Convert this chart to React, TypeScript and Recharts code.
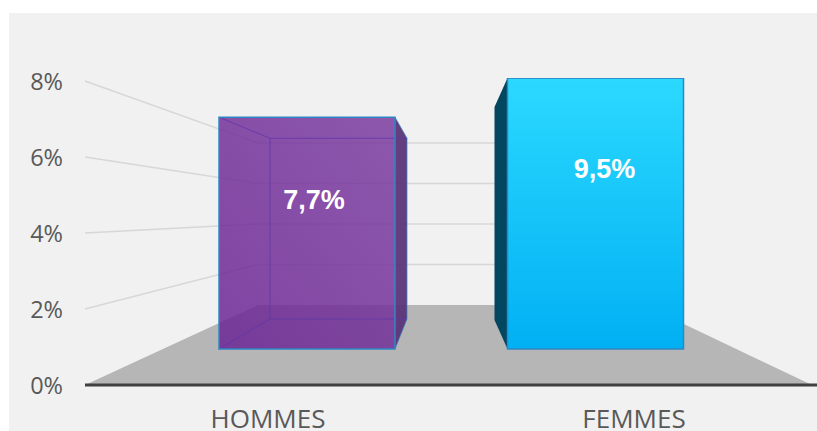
import {
  Bar,
  BarChart,
  LabelList,
  ReferenceArea,
  ReferenceLine,
  XAxis,
  YAxis,
} from "recharts";

const categories = ["HOMMES", "FEMMES"];
const values = [7.7, 9.5];
const valueLabels = ["7,7%", "9,5%"];
const axisTicks = [0, 2, 4, 6, 8];
const wallTicks = [2, 4, 6, 8];
// the source chart stops its value axis at 9, so the 9,5% box is cut there
const AXIS_MAX = 9;

const chartData = categories.map((name, i) => ({
  name,
  value: Math.min(values[i], AXIS_MAX),
  label: valueLabels[i],
}));

// perspective: px per 1% on the front edge, at the boxes and on the back wall
const FRONT_UNIT = 38;
const WALL_UNIT = 20.25;
const FLOOR_DEPTH = 80;
const PLOT_LEFT = 85;
const WALL_LEFT = 258;
const WALL_RIGHT = 644;
const FLOOR_RIGHT = 812;

const textColor = "#595959";
const gridColor = "#d7d7d7";
const edgeColor = "#2f86c4";

function Floor({ x, y, height }: any) {
  const bottom = y + height;
  return (
    <path
      d={`M${x},${bottom} L${WALL_LEFT},${y} L${WALL_RIGHT},${y} L${FLOOR_RIGHT},${bottom} Z`}
      fill="#b6b6b6"
    />
  );
}

function WallLine({ x2, y1, tick }: any) {
  const frontY = y1 + FLOOR_DEPTH - (FRONT_UNIT - WALL_UNIT) * tick;
  return (
    <path
      d={`M${PLOT_LEFT},${frontY} L${WALL_LEFT},${y1} L${x2},${y1}`}
      fill="none"
      stroke={gridColor}
      strokeWidth={1.5}
    />
  );
}

function Box({ x, y, width, height, index }: any) {
  const right = x + width;
  const bottom = y + height;
  if (index === 0) {
    const bx1 = x + 51;
    const bx2 = right + 12;
    const by1 = y + 21;
    const by2 = bottom - 30;
    return (
      <g>
        <path
          d={`M${right},${y} L${bx2},${by1} L${bx2},${by2} L${right},${bottom} Z`}
          fill="#5b3579"
          fillOpacity={0.95}
        />
        <rect x={x} y={y} width={width} height={height} fill="url(#purpleFace)" />
        <path
          d={`M${x},${y} L${bx1},${by1} L${bx2},${by1} M${bx1},${by1} L${bx1},${by2} L${bx2},${by2} M${bx1},${by2} L${x},${bottom}`}
          fill="none"
          stroke="#5f35a8"
          strokeOpacity={0.75}
          strokeWidth={1}
        />
        <path
          d={`M${right},${y} L${bx2},${by1} L${bx2},${by2} L${right},${bottom}`}
          fill="none"
          stroke={edgeColor}
          strokeOpacity={0.7}
          strokeWidth={1}
        />
        <rect x={x} y={y} width={width} height={height} fill="none" stroke={edgeColor} strokeWidth={1.5} />
      </g>
    );
  }
  const sx = x - 13;
  return (
    <g>
      <path
        d={`M${x},${y} L${sx},${y + 29} L${sx},${bottom - 29} L${x},${bottom} Z`}
        fill="#02465f"
      />
      <rect
        x={x}
        y={y}
        width={width}
        height={height}
        fill="url(#blueFace)"
        stroke={edgeColor}
        strokeWidth={1.5}
      />
    </g>
  );
}

function BoxLabel({ x, y, width, index, value }: any) {
  const dy = index === 0 ? 92 : 100;
  const dx = index === 0 ? 7 : 9;
  return (
    <text
      x={x + width / 2 + dx}
      y={y + dy}
      textAnchor="middle"
      fill="#ffffff"
      fontFamily="Liberation Sans"
      fontWeight={700}
      fontSize={27}
    >
      {value}
    </text>
  );
}

export default function App() {
  return (
    <div style={{ position: "absolute", left: 0, top: 0, width: 817, height: 431, background: "#ffffff", overflow: "hidden" }}>
      <div style={{ position: "absolute", left: 9, top: 13, right: 0, bottom: 0, background: "#f1f1f1" }} />
      <div style={{ position: "absolute", left: 0, top: 0 }}>
        <BarChart
          width={817}
          height={431}
          data={chartData}
          barSize={176}
          margin={{ top: 78, right: 0, bottom: 0, left: 0 }}
        >
          <defs>
            <linearGradient id="purpleFace" x1="0" y1="1" x2="1" y2="0">
              <stop offset="0%" stopColor="#6a2393" stopOpacity={0.84} />
              <stop offset="100%" stopColor="#7a3a9f" stopOpacity={0.84} />
            </linearGradient>
            <linearGradient id="blueFace" x1="0" y1="0" x2="0" y2="1">
              <stop offset="0%" stopColor="#2bd9ff" />
              <stop offset="100%" stopColor="#01b0f3" />
            </linearGradient>
          </defs>
          <XAxis xAxisId="boxes" dataKey="name" hide height={0} padding={{ left: 78, right: 77 }} />
          <XAxis
            xAxisId="front"
            dataKey="name"
            height={46}
            axisLine={{ stroke: "#404040", strokeWidth: 3 }}
            tickLine={false}
            tickMargin={19}
            tick={{ fill: textColor, fontSize: 26, fontFamily: "Open Sans" }}
          />
          <YAxis
            yAxisId="front"
            width={85}
            allowDataOverflow
            domain={[0, 307 / FRONT_UNIT]}
            ticks={axisTicks}
            tickFormatter={(v) => `${v}%`}
            axisLine={false}
            tickLine={false}
            tickMargin={16}
            tick={{ fill: textColor, fontSize: 23.5, fontFamily: "Open Sans", dy: 1 }}
          />
          <YAxis yAxisId="boxes" hide width={0} allowDataOverflow domain={[-1.196, 9.004]} />
          <YAxis
            yAxisId="wall"
            hide
            width={0}
            allowDataOverflow
            domain={[-FLOOR_DEPTH / WALL_UNIT, 227 / WALL_UNIT]}
          />
          <ReferenceArea
            xAxisId="front"
            yAxisId="front"
            y1={0}
            y2={FLOOR_DEPTH / FRONT_UNIT}
            shape={<Floor />}
          />
          {wallTicks.map((t) => (
            <ReferenceLine
              key={t}
              xAxisId="front"
              yAxisId="wall"
              y={t}
              zIndex={150}
              shape={(p: any) => <WallLine {...p} tick={t} x2={WALL_RIGHT} />}
            />
          ))}
          <Bar
            xAxisId="boxes"
            yAxisId="boxes"
            dataKey="value"
            shape={<Box />}
            isAnimationActive={false}
          >
            <LabelList dataKey="label" content={<BoxLabel />} />
          </Bar>
        </BarChart>
      </div>
    </div>
  );
}
